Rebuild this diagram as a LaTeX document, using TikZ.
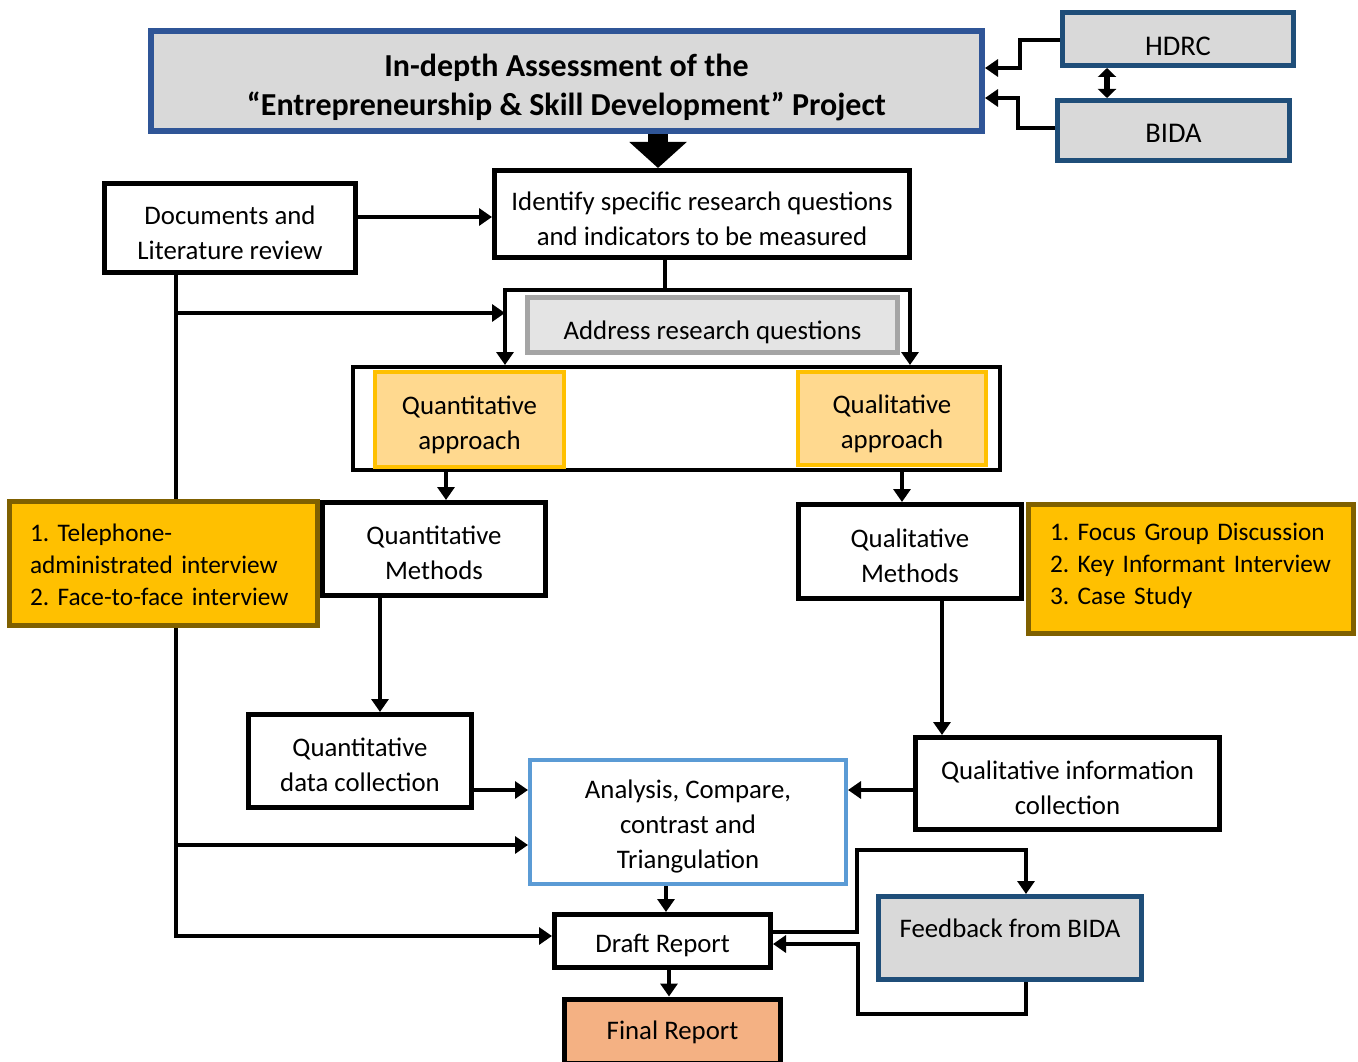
\documentclass[tikz,border=0pt]{standalone}
\usepackage{fontspec}
\setmainfont{Carlito}
\usetikzlibrary{arrows.meta}
\pgfdeclarelayer{bg}
\pgfsetlayers{bg,main}
\definecolor{titleblue}{HTML}{2F5597}
\definecolor{darkblue}{HTML}{1F4E79}
\definecolor{boxgray}{HTML}{D9D9D9}
\definecolor{addrborder}{HTML}{A5A5A5}
\definecolor{addrfill}{HTML}{E4E4E4}
\definecolor{apborder}{HTML}{FFC000}
\definecolor{apfill}{HTML}{FFD98F}
\definecolor{goldfill}{HTML}{FFC000}
\definecolor{goldborder}{HTML}{7F6000}
\definecolor{anborder}{HTML}{5B9BD5}
\definecolor{finalfill}{HTML}{F4B183}
\frenchspacing
\begin{document}
\begin{tikzpicture}[x=1pt,y=-1pt,
  txt/.style={font=\fontsize{26.8}{35}\selectfont, align=center, inner sep=0pt},
  box/.style={draw=black, line width=5pt, fill=white, inner sep=0pt},
  bluebox/.style={box, draw=darkblue, fill=boxgray},
  apbx/.style={box, draw=apborder, fill=apfill, line width=4.5pt},
  goldbox/.style={box, draw=goldborder, fill=goldfill},
  goldtxt/.style={align=left, text width=#1, inner sep=0pt, font=\fontsize{25.3}{32}\selectfont},
  line/.style={line width=4pt},
  arr/.style={line width=4pt, -{Triangle[length=13pt,width=17pt]}},
]
\useasboundingbox (0,0) rectangle (1358,1062);

% boxes
\node[box, draw=titleblue, fill=boxgray, line width=6pt, minimum width=831, minimum height=100] (title) at (566.5,81) {};
\node[txt, font=\fontsize{32}{39}\selectfont\bfseries] (title-t) at ([yshift=-6pt]title.center)
  {In-depth Assessment of the\\``Entrepreneurship \& Skill Development'' Project};
\node[bluebox, minimum width=231, minimum height=53] (hdrc) at (1178,39) {};
\node[txt, font=\fontsize{28.5}{35}\selectfont] (hdrc-t) at ([yshift=-7pt]hdrc.center) {HDRC};
\node[bluebox, minimum width=232, minimum height=60] (bida) at (1173.5,130.5) {};
\node[txt, font=\fontsize{28.5}{35}\selectfont] (bida-t) at ([yshift=-3pt]bida.center) {BIDA};
\node[box, minimum width=415, minimum height=87] (identify) at (702,214) {};
\node[txt] (identify-t) at ([yshift=-5pt]identify.center) {Identify specific research questions\\and indicators to be measured};
\node[box, minimum width=251, minimum height=89] (docs) at (230,228) {};
\node[txt] (docs-t) at ([yshift=-5pt]docs.center) {Documents and\\Literature review};
\node[box, minimum width=647, minimum height=103, line width=4pt] (apbox) at (676.5,418.5) {};
\node[box, draw=addrborder, fill=addrfill, minimum width=370, minimum height=55] (address) at (712.5,325) {};
\node[txt] (address-t) at ([yshift=-7pt]address.center) {Address research questions};
\node[apbx, minimum width=189, minimum height=95] (quantap) at (469.5,419.5) {};
\node[txt] (quantap-t) at ([yshift=-5pt]quantap.center) {Quantitative\\approach};
\node[apbx, minimum width=188, minimum height=93] (qualap) at (892,418.5) {};
\node[txt] (qualap-t) at ([yshift=-5pt]qualap.center) {Qualitative\\approach};
\node[goldbox, minimum width=308, minimum height=124] (tel) at (163.5,563.5) {};
\node[goldtxt=267] (tel-t) at ([yshift=-1pt]tel.center)
  {1. Telephone-\\administrated interview\\2. Face-to-face interview};
\node[box, minimum width=223, minimum height=93] (quantm) at (434,549) {};
\node[txt] (quantm-t) at ([yshift=-4pt]quantm.center) {Quantitative\\Methods};
\node[box, minimum width=223, minimum height=94] (qualm) at (910,551.5) {};
\node[txt] (qualm-t) at ([yshift=-4pt]qualm.center) {Qualitative\\Methods};
\node[goldbox, minimum width=325, minimum height=129] (focus) at (1191,569) {};
\node[goldtxt=282] (focus-t) at ([yshift=3pt]focus.center)
  {1. Focus Group Discussion\\2. Key Informant Interview\\3. Case Study};
\node[box, minimum width=223, minimum height=93] (quantd) at (360,761) {};
\node[txt] (quantd-t) at ([yshift=-4pt]quantd.center) {Quantitative\\data collection};
\node[box, minimum width=304, minimum height=92] (quali) at (1067.5,783.5) {};
\node[txt] (quali-t) at ([yshift=-4pt]quali.center) {Qualitative information\\collection};
\node[box, draw=anborder, line width=4pt, minimum width=316, minimum height=124] (analysis) at (688,822) {};
\node[txt] (analysis-t) at ([yshift=-4pt]analysis.center) {Analysis, Compare,\\contrast and\\Triangulation};
\node[box, minimum width=216, minimum height=53] (draft) at (662.5,941) {};
\node[txt] (draft-t) at ([yshift=-4pt]draft.center) {Draft Report};
\node[box, fill=finalfill, minimum width=216, minimum height=64] (final) at (672.5,1031) {};
\node[txt] (final-t) at ([yshift=-1pt]final.center) {Final Report};
\node[bluebox, minimum width=263, minimum height=83] (fb) at (1010,938) {};
\node[txt] (fb-t) at (1010,928) {Feedback from BIDA};

\coordinate (brL) at (505,290);
\coordinate (brR) at (910,290);

\begin{pgfonlayer}{bg}
% title arrows
\draw[line width=20pt, -{Triangle[length=26pt,width=56pt]}] (title.south -| 658,0) -- (identify.north -| 658,0);
\draw[arr] (hdrc.west |- 0,40) -- (1020,40) -- (1020,68) -- (title.east |- 0,68);
\draw[arr] (bida.west |- 0,128) -- (1018,128) -- (1018,98) -- (title.east |- 0,98);
\draw[line width=6pt, {Triangle[length=9pt,width=18pt]}-{Triangle[length=9pt,width=18pt]}]
  (hdrc.south -| 1107,0) -- (bida.north -| 1107,0);
% documents
\draw[arr] (docs.east |- 0,217) -- (identify.west |- 0,217);
\draw[line] (identify.south -| 665,0) -- (665,290);
\draw[line, {Triangle[length=13pt,width=17pt]}-{Triangle[length=13pt,width=17pt]}]
  (apbox.north -| brL) -- (brL) -- (brR) -- (apbox.north -| brR);
\draw[line] (docs.south -| 176,0) -- (176,936);
\draw[arr] (176,313) -- (brL |- 0,313);
\draw[arr] (176,845) -- (analysis.west |- 0,845);
\draw[arr] (174,936) -- (draft.west |- 0,936);
% methods
\draw[arr] (apbox.south -| 446,0) -- (quantm.north -| 446,0);
\draw[arr] (apbox.south -| 902,0) -- (qualm.north -| 902,0);
\draw[arr] (quantm.south -| 380,0) -- (quantd.north -| 380,0);
\draw[arr] (qualm.south -| 942,0) -- (quali.north -| 942,0);
\draw[arr] (quantd.east |- 0,790) -- (analysis.west |- 0,790);
\draw[arr] (quali.west |- 0,790) -- (analysis.east |- 0,790);
\draw[arr] (analysis.south -| 666,0) -- (draft.north -| 666,0);
\draw[arr] (draft.south -| 669,0) -- (final.north -| 669,0);
% feedback loop
\draw[arr] (draft.east |- 0,932) -- (857,932) -- (857,850) -- (1026,850) -- (fb.north -| 1026,0);
\draw[arr] (fb.south -| 1026,0) -- (1026,1014) -- (858,1014) -- (858,944) -- (draft.east |- 0,944);
\end{pgfonlayer}
\end{tikzpicture}
\end{document}
